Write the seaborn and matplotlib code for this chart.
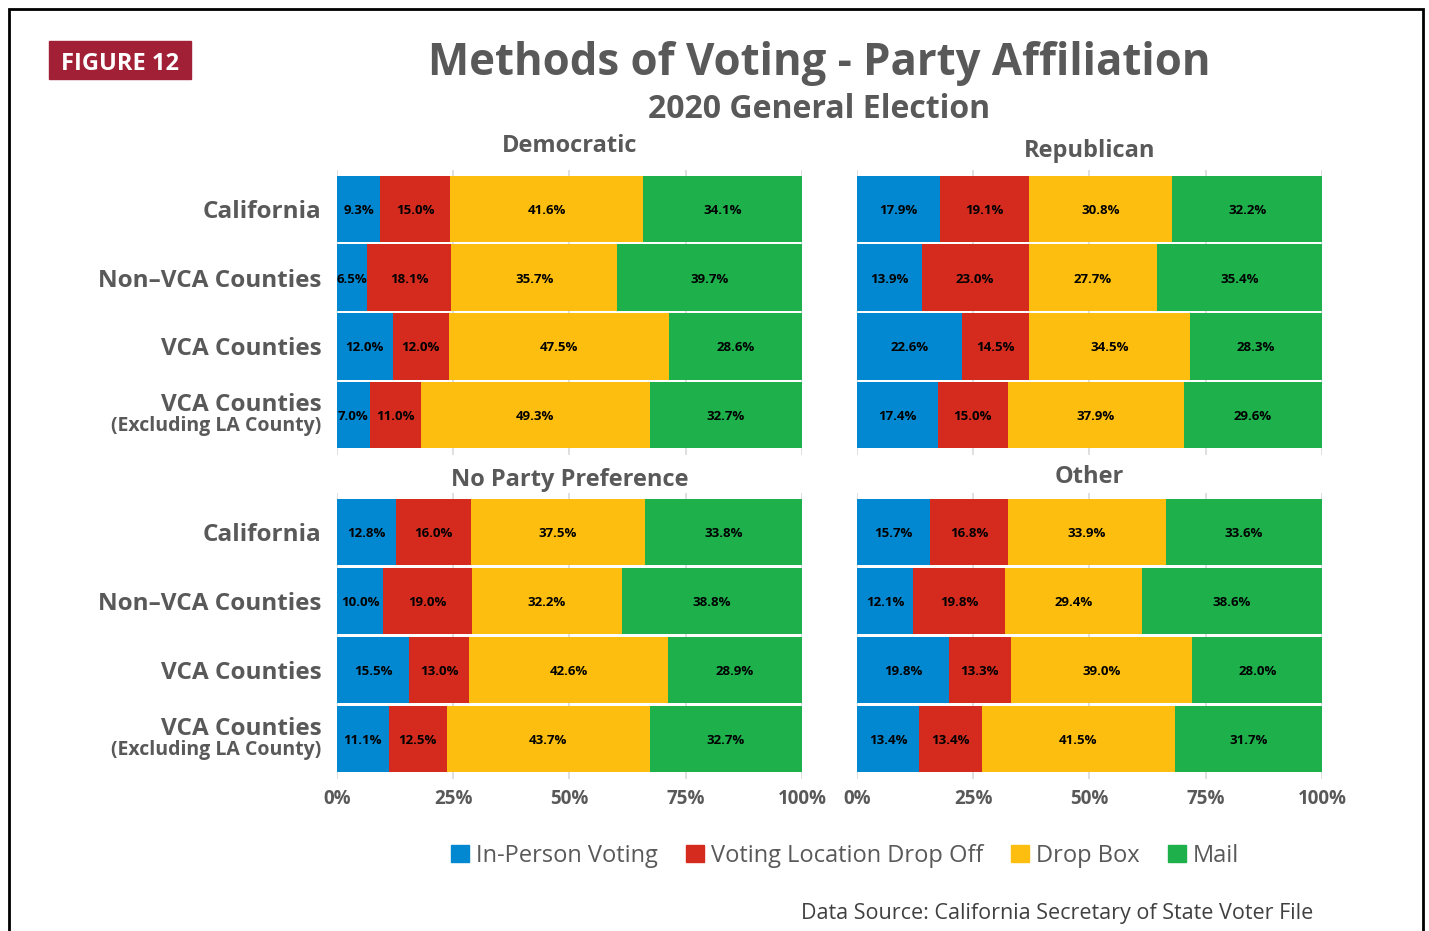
import numpy as np
import pandas as pd
import matplotlib
matplotlib.use("Agg")
import matplotlib.pyplot as plt
import seaborn as sns
from matplotlib.patches import Patch, Rectangle

# Données
regions = ["California", "Non\u2013VCA Counties", "VCA Counties", "VCA Counties ex LA"]
methods = ["In-Person Voting", "Voting Location Drop Off", "Drop Box", "Mail"]
colors = ["#0288D1", "#D52B1E", "#FDBE10", "#1DB04B"]

democratic = [[9.3, 15.0, 41.6, 34.1],
              [6.5, 18.1, 35.7, 39.7],
              [12.0, 12.0, 47.5, 28.6],
              [7.0, 11.0, 49.3, 32.7]]
republican = [[17.9, 19.1, 30.8, 32.2],
              [13.9, 23.0, 27.7, 35.4],
              [22.6, 14.5, 34.5, 28.3],
              [17.4, 15.0, 37.9, 29.6]]
no_party = [[12.8, 16.0, 37.5, 33.8],
            [10.0, 19.0, 32.2, 38.8],
            [15.5, 13.0, 42.6, 28.9],
            [11.1, 12.5, 43.7, 32.7]]
other = [[15.7, 16.8, 33.9, 33.6],
         [12.1, 19.8, 29.4, 38.6],
         [19.8, 13.3, 39.0, 28.0],
         [13.4, 13.4, 41.5, 31.7]]

panels = [("Democratic", democratic), ("Republican", republican),
          ("No Party Preference", no_party), ("Other", other)]

gray = "#595959"
sns.set_style("white")
plt.rcParams["font.family"] = ["Open Sans", "DejaVu Sans"]

W, H = 1429, 931
fig = plt.figure(figsize=(W / 100, H / 100), dpi=100)

# positions des axes (en fraction de la figure)
ax_pos = [[0.2358, 0.5113, 0.3254, 0.3064],
          [0.5997, 0.5113, 0.3254, 0.3064],
          [0.2358, 0.1633, 0.3254, 0.3072],
          [0.5997, 0.1633, 0.3254, 0.3072]]
title_y = [143, 148, 477, 474]

for i, (name, values) in enumerate(panels):
    ax = fig.add_axes(ax_pos[i])
    df = pd.DataFrame(values, columns=methods)
    df["Region"] = regions
    cum = df[methods].cumsum(axis=1)
    # barres empilées : on dessine les cumuls du plus grand au plus petit
    for j in range(len(methods) - 1, -1, -1):
        sns.barplot(x=cum[methods[j]], y=df["Region"], color=colors[j],
                    orient="h", width=0.965, saturation=1, linewidth=0,
                    ax=ax, zorder=2)
    # étiquettes de valeurs
    for r in range(len(regions)):
        left = 0
        for j, m in enumerate(methods):
            v = df.loc[r, m]
            ax.text(left + v / 2, r, f"{v:.1f}%", ha="center", va="center_baseline",
                    fontsize=9.5, fontweight="bold", color="black", zorder=3)
            left += v
    ax.set_xlim(0, 100)
    ax.set_ylim(3.58, -0.57)
    ax.set_xticks([0, 25, 50, 75, 100])
    ax.grid(axis="x", color="#d9d9d9", linewidth=1.2, zorder=0)
    ax.set_xlabel("")
    ax.set_ylabel("")
    for s in ax.spines.values():
        s.set_visible(False)
    ax.tick_params(length=0)
    if i >= 2:
        ax.set_xticklabels(["0%", "25%", "50%", "75%", "100%"], fontsize=13.5,
                           fontweight="bold", color=gray)
        ax.tick_params(axis="x", pad=7)
    else:
        ax.set_xticklabels([])
    ax.set_yticks([])
    cx = ax_pos[i][0] + ax_pos[i][2] / 2
    fig.text(cx, 1 - title_y[i] / H, name, ha="center", va="center_baseline",
             fontsize=17, fontweight="bold", color=gray)
    # étiquettes de régions (colonne de gauche)
    if i % 2 == 0:
        trans = ax.get_yaxis_transform()
        for r, lab in enumerate(regions[:3]):
            ax.text(-0.033, r, lab, transform=trans, ha="right", va="center_baseline",
                    fontsize=17.5, fontweight="bold", color=gray)
        ax.text(-0.033, 3 - 0.19, "VCA Counties", transform=trans, ha="right",
                va="center_baseline", fontsize=17.5, fontweight="bold", color=gray)
        ax.text(-0.033, 3 + 0.12, "(Excluding LA County)", transform=trans,
                ha="right", va="center_baseline", fontsize=14, fontweight="bold",
                color=gray)

# titres
fig.text(0.573, 1 - 58 / H, "Methods of Voting - Party Affiliation", ha="center",
         va="center_baseline", fontsize=31.5, fontweight="bold", color=gray)
fig.text(0.573, 1 - 106 / H, "2020 General Election", ha="center",
         va="center_baseline", fontsize=23, fontweight="bold", color=gray)

# étiquette FIGURE 12
fig.patches.append(Rectangle((49 / W, 1 - 79 / H), 142 / W, 38 / H,
                             transform=fig.transFigure, color="#A12035"))
fig.text(120 / W, 1 - 61 / H, "FIGURE 12", ha="center", va="center_baseline",
         fontsize=17, fontweight="bold", color="white")

# cadre
fig.patches.append(Rectangle((9 / W, -0.05), 1414 / W, 1.05 - 9 / H,
                             transform=fig.transFigure, fill=False,
                             edgecolor="black", linewidth=2))

# légende
handles = [Patch(color=c, label=m) for c, m in zip(colors, methods)]
leg = fig.legend(handles=handles, loc="center", bbox_to_anchor=(845 / W, 1 - 856 / H),
                 ncol=4, frameon=False, fontsize=17, handlelength=0.75,
                 handleheight=0.75, handletextpad=0.3, columnspacing=1.2)
for t in leg.get_texts():
    t.set_color(gray)

fig.text(1313 / W, 1 - 911 / H, "Data Source: California Secretary of State Voter File",
         ha="right", va="center_baseline", fontsize=15.5, color="#404040")

fig.savefig("out.png", dpi=100)
